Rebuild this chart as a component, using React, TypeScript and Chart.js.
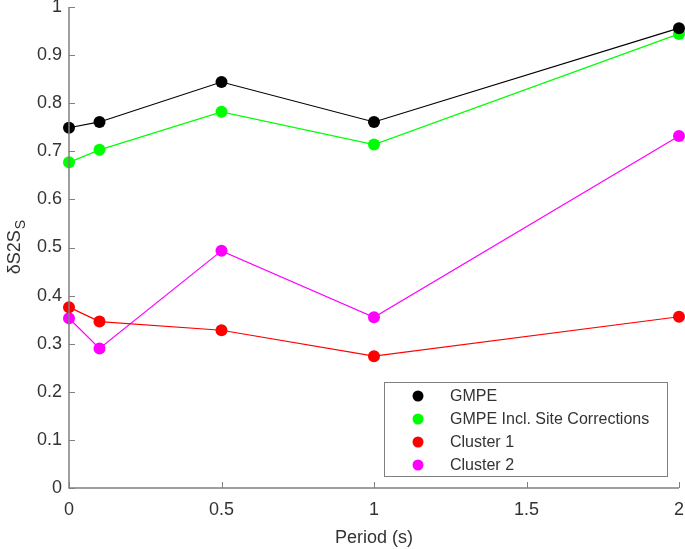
import React, { useEffect, useRef } from "react";
import { Chart, registerables } from "chart.js";

Chart.register(...registerables);

const periods = [0, 0.1, 0.5, 1, 2];
const gmpe = [0.749, 0.761, 0.844, 0.761, 0.956];
const gmpeSite = [0.677, 0.703, 0.782, 0.714, 0.944];
const cluster1 = [0.376, 0.346, 0.328, 0.274, 0.356];
const cluster2 = [0.353, 0.290, 0.493, 0.355, 0.732];
const seriesLabels = ["GMPE", "GMPE Incl. Site Corrections", "Cluster 1", "Cluster 2"];
const seriesColors = ["#000000", "#00ff00", "#ff0000", "#ff00ff"];
const xTicks = [0, 0.5, 1, 1.5, 2];
const yTicks = [0, 0.1, 0.2, 0.3, 0.4, 0.5, 0.6, 0.7, 0.8, 0.9, 1];

const FONT = "'Liberation Sans', Arial, sans-serif";
const AXIS_COLOR = "#808080";
const TEXT_COLOR = "#333333";

const decorPlugin = {
  id: "decor",
  afterDraw(chart: any) {
    const ctx = chart.ctx as CanvasRenderingContext2D;
    const { chartArea } = chart;
    const xs = chart.scales.x;
    const ys = chart.scales.y;
    ctx.save();
    ctx.strokeStyle = AXIS_COLOR;
    ctx.lineWidth = 1.5;
    ctx.beginPath();
    ctx.moveTo(chartArea.left, chartArea.top);
    ctx.lineTo(chartArea.left, chartArea.bottom);
    ctx.lineTo(chartArea.right, chartArea.bottom);
    ctx.stroke();
    ctx.lineWidth = 1;
    ctx.beginPath();
    xTicks.forEach((t) => {
      const px = Math.round(xs.getPixelForValue(t)) + 0.5;
      ctx.moveTo(px, chartArea.bottom);
      ctx.lineTo(px, chartArea.bottom - 6);
    });
    yTicks.forEach((t) => {
      const py = Math.round(ys.getPixelForValue(t)) + 0.5;
      ctx.moveTo(chartArea.left, py);
      ctx.lineTo(chartArea.left + 6, py);
    });
    ctx.stroke();
    // y title with subscript
    ctx.fillStyle = TEXT_COLOR;
    ctx.translate(20, (chartArea.top + chartArea.bottom) / 2);
    ctx.rotate(-Math.PI / 2);
    ctx.font = `18px ${FONT}`;
    const main = "δS2S";
    const wMain = ctx.measureText(main).width;
    ctx.font = `14px ${FONT}`;
    const wSub = ctx.measureText("S").width;
    const total = wMain + wSub;
    ctx.textBaseline = "alphabetic";
    ctx.textAlign = "left";
    ctx.font = `18px ${FONT}`;
    ctx.fillText(main, -total / 2, 0);
    ctx.font = `14px ${FONT}`;
    ctx.fillText("S", -total / 2 + wMain + 1, 5);
    ctx.restore();

    // legend
    ctx.save();
    const lx = 384, ly = 382, lw = 283, lh = 94;
    ctx.fillStyle = "#ffffff";
    ctx.fillRect(lx, ly, lw, lh);
    ctx.strokeStyle = AXIS_COLOR;
    ctx.lineWidth = 1;
    ctx.strokeRect(lx + 0.5, ly + 0.5, lw, lh);
    ctx.font = `16px ${FONT}`;
    ctx.textBaseline = "middle";
    ctx.textAlign = "left";
    seriesLabels.forEach((lab, i) => {
      const cy = ly + 14 + i * 23;
      ctx.fillStyle = seriesColors[i];
      ctx.beginPath();
      ctx.arc(418, cy, 5.5, 0, Math.PI * 2);
      ctx.fill();
      ctx.fillStyle = TEXT_COLOR;
      ctx.fillText(lab, 450, cy + 1);
    });
    ctx.restore();
  },
};

export default function App() {
  const ref = useRef<HTMLCanvasElement | null>(null);
  useEffect(() => {
    if (!ref.current) return;
    const seriesData = [gmpe, gmpeSite, cluster1, cluster2];
    const chart = new Chart(ref.current, {
      type: "line",
      data: {
        datasets: seriesData.map((vals, i) => ({
          label: seriesLabels[i],
          data: periods.map((p, j) => ({ x: p, y: vals[j] })),
          borderColor: seriesColors[i],
          backgroundColor: seriesColors[i],
          pointBackgroundColor: seriesColors[i],
          pointBorderWidth: 0,
          pointRadius: 6,
          borderWidth: 1.2,
          tension: 0,
          clip: false as any,
        })),
      },
      options: {
        animation: false,
        responsive: false,
        maintainAspectRatio: false,
        layout: { padding: { top: 7, right: 6, left: 0, bottom: 0 } },
        plugins: { legend: { display: false }, tooltip: { enabled: false } },
        scales: {
          x: {
            type: "linear",
            min: 0,
            max: 2,
            afterBuildTicks: (s: any) => {
              s.ticks = xTicks.map((v) => ({ value: v }));
            },
            afterFit: (s: any) => {
              s.height = 61;
              s.paddingLeft = 0;
              s.paddingRight = 0;
            },
            grid: { display: false, drawTicks: false },
            border: { display: false },
            ticks: {
              color: TEXT_COLOR,
              font: { family: FONT, size: 18 },
              padding: 11,
              maxRotation: 0,
              callback: (v: any) => String(v),
            },
            title: {
              display: true,
              text: "Period (s)",
              color: TEXT_COLOR,
              font: { family: FONT, size: 18 },
              padding: { top: 4, bottom: 0 },
            },
          },
          y: {
            type: "linear",
            min: 0,
            max: 1,
            afterBuildTicks: (s: any) => {
              s.ticks = yTicks.map((v) => ({ value: v }));
            },
            afterFit: (s: any) => {
              s.width = 69;
              s.paddingTop = 0;
              s.paddingBottom = 0;
            },
            grid: { display: false, drawTicks: false },
            border: { display: false },
            ticks: {
              color: TEXT_COLOR,
              font: { family: FONT, size: 18 },
              padding: 7,
              callback: (v: any) => String(Math.round(v * 10) / 10),
            },
          },
        },
      },
      plugins: [decorPlugin],
    });
    return () => chart.destroy();
  }, []);
  return (
    <div style={{ position: "fixed", left: 0, top: 0, width: 685, height: 549, background: "#fff" }}>
      <canvas ref={ref} width={685} height={549} style={{ width: 685, height: 549 }} />
    </div>
  );
}
